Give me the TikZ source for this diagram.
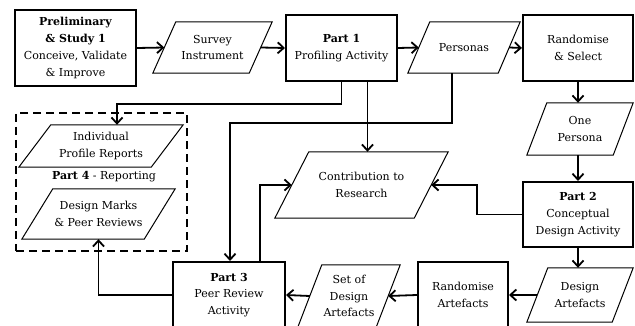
\documentclass[tikz,border=0pt]{standalone}
\usepackage{fontspec}
\setmainfont{DejaVu Serif}
\usetikzlibrary{arrows.meta,calc}
\newcommand\parashape[2]{\draw[line width=1pt] ([xshift=#2pt]#1.north west) -- (#1.north east) -- ([xshift=-#2pt]#1.south east) -- (#1.south west) -- cycle;}
\begin{document}
\begin{tikzpicture}[x=1pt,y=-1pt,
  font=\fontsize{11}{16.7}\selectfont,
  box/.style={draw, line width=2pt, align=center, inner sep=0pt},
  para/.style={align=center, inner sep=0pt},
  arr/.style={line width=1.8pt, -{Straight Barb[length=6pt,width=11pt,line width=1.8pt]}},
]
\path[use as bounding box] (0,0) rectangle (635,326);
\clip (0,0) rectangle (635,326);

% boxes
\node[box, minimum width=121pt, minimum height=76pt] (pre) at (75.5,48) {\textbf{Preliminary}\\\textbf{\& Study 1}\\Conceive, Validate\\\& Improve};
\node[box, minimum width=111pt, minimum height=66pt] (p1) at (341.5,48) {\textbf{Part 1}\\Profiling Activity};
\node[box, minimum width=110pt, minimum height=66pt] (rs) at (578,48) {Randomise\\\& Select};
\node[box, minimum width=110pt, minimum height=65pt] (p2) at (578,214.5) {\textbf{Part 2}\\Conceptual\\Design Activity};
\node[box, minimum width=90pt, minimum height=66pt] (rart) at (463,295) {Randomise\\Artefacts};
\node[box, minimum width=112pt, minimum height=66pt] (p3) at (229,295) {\textbf{Part 3}\\Peer Review\\Activity};

% part 4 group
\node[draw, line width=2pt, dash pattern=on 8pt off 5pt, minimum width=171pt, minimum height=138pt] (p4) at (101.5,182) {};
\node[inner sep=0pt] (p4lab) at (104,177) {\textbf{Part 4} - Reporting};

% parallelograms
\node[para, minimum width=119pt, minimum height=51pt] (sur) at (212.5,47.5) {Survey\\Instrument};
\parashape{sur}{23}
\node[para, minimum width=112pt, minimum height=51pt] (per) at (464,47.5) {Personas};
\parashape{per}{22}
\node[para, minimum width=106pt, minimum height=52pt] (onep) at (580,129) {One\\Persona};
\parashape{onep}{20}
\node[para, minimum width=106pt, minimum height=54pt] (dart) at (580,295) {Design\\Artefacts};
\parashape{dart}{21}
\node[para, minimum width=102pt, minimum height=62pt] (set) at (349,296) {Set of\\Design\\Artefacts};
\parashape{set}{24}
\node[para, minimum width=173pt, minimum height=66pt] (con) at (361.5,185) {Contribution to\\Research};
\parashape{con}{34}
\node[para, minimum width=164pt, minimum height=42pt] (ind) at (101,146) {Individual\\Profile Reports};
\parashape{ind}{32}
\node[para, minimum width=153pt, minimum height=50pt] (dm) at (98.5,214) {Design Marks\\\& Peer Reviews};
\parashape{dm}{31}

% connectors
\draw[arr] (pre.east) -- ([xshift=11.5pt]sur.west);
\draw[arr] ([xshift=-11.5pt]sur.east) -- (p1.west);
\draw[arr] (p1.east) -- ([xshift=11pt]per.west);
\draw[arr] ([xshift=-11pt]per.east) -- (rs.west);
\draw[arr] (rs.south) -- (rs.south |- onep.north);
\draw[arr] (onep.south -| p2.north) -- (p2.north);
\draw[arr] (p2.west) -- ++(-45,0) |- ([xshift=-17pt]con.east);
\draw[arr] (p2.south) -- (p2.south |- dart.north);
\draw[arr] ([xshift=10.5pt]dart.west) -- (rart.east);
\draw[arr] (rart.west) -- ([xshift=-12pt]set.east);
\draw[arr] ([xshift=12pt]set.west) -- (p3.east);
\draw[arr] (p3.west) -| (dm.south);
\draw[arr] ([xshift=31pt]p3.north) |- ([xshift=17pt]con.west);
\draw[arr] (p1.south) -- ++(0,22) -| ([xshift=16pt]ind.north);
\draw[arr] ([xshift=26pt]p1.south) -- ([xshift=26pt]p1.south |- con.north);
\draw[arr] ([xshift=-12pt]per.south) -- ++(0,50) -| ([xshift=1pt]p3.north);
\end{tikzpicture}
\end{document}
